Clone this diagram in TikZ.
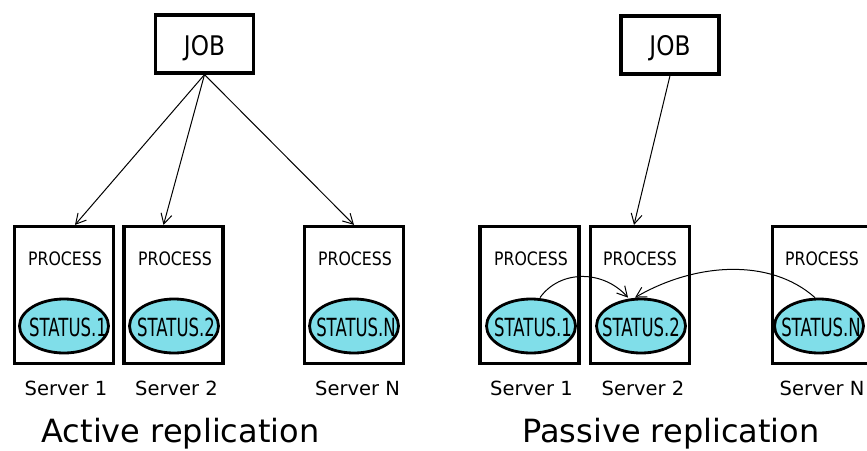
\documentclass[tikz,border=0pt]{standalone}
\usepackage{fontspec}
\usepackage{graphicx}
\setmainfont{DejaVu Sans}
\usetikzlibrary{shapes.geometric,arrows.meta}
\definecolor{statfill}{RGB}{128,222,233}
\newcommand{\jobtxt}[1]{\scalebox{0.86}[1]{\fontsize{27}{30}\selectfont #1}}
\newcommand{\proctxt}[1]{\scalebox{0.85}[1]{\fontsize{18.5}{21}\selectfont #1}}
\newcommand{\stattxt}[1]{\scalebox{0.66}[1]{\fontsize{25}{28}\selectfont #1}}
\tikzset{
  box/.style={draw=black,line width=3.2pt,minimum width=99pt,minimum height=137pt,inner sep=0pt},
  jobbox/.style={draw=black,line width=3.2pt,minimum width=98pt,minimum height=58pt,inner sep=0pt},
  stat/.style={ellipse,draw=black,line width=2.8pt,fill=statfill,minimum width=89pt,minimum height=54pt,inner sep=0pt},
  txt/.style={inner sep=0pt,anchor=base},
  slabel/.style={inner sep=0pt,anchor=base,font=\fontsize{19.5}{22}\selectfont},
  title/.style={inner sep=0pt,anchor=base,font=\fontsize{32}{36}\selectfont},
  arr/.style={line width=1pt,-{Straight Barb[length=10pt,width=11pt]}}
}
\begin{document}
\begin{tikzpicture}[x=1pt,y=-1pt]
\useasboundingbox (0,0) rectangle (867,450);
% ---- Active replication ----
\node[jobbox] (job1) at (204.5,44) {};
\node[txt] (jt1) at (204.5,55) {\jobtxt{JOB}};
\node[box] (a1) at (64,295) {};
\node[box] (a2) at (173.5,295) {};
\node[box] (a3) at (354,295) {};
\node[txt] (ap1) at (65,265) {\proctxt{PROCESS}};
\node[txt] (ap2) at (175,265) {\proctxt{PROCESS}};
\node[txt] (ap3) at (355,265) {\proctxt{PROCESS}};
\node[stat] (ae1) at (64,326) {};
\node[stat] (ae2) at (174,326) {};
\node[stat] (ae3) at (354,326) {};
\node[txt] (at1) at (68,336) {\stattxt{STATUS.1}};
\node[txt] (at2) at (176,336) {\stattxt{STATUS.2}};
\node[txt] (at3) at (356,336) {\stattxt{STATUS.N}};
\node[slabel] (as1) at (66,395) {Server 1};
\node[slabel] (as2) at (176.5,395) {Server 2};
\node[slabel] (as3) at (357.5,395) {Server N};
\node[title] (t1) at (180.5,442) {Active replication};
\draw[arr] (job1.south) -- ([xshift=11pt]a1.north);
\draw[arr] (job1.south) -- ([xshift=-10pt]a2.north);
\draw[arr] (job1.south) -- (a3.north);
% ---- Passive replication ----
\node[jobbox] (job2) at (670,45) {};
\node[txt] (jt2) at (670,55) {\jobtxt{JOB}};
\node[box] (b1) at (529.5,295) {};
\node[box] (b2) at (640,295) {};
\node[box] (b3) at (822,295) {};
\node[txt] (bp1) at (531,265) {\proctxt{PROCESS}};
\node[txt] (bp2) at (640,265) {\proctxt{PROCESS}};
\node[txt] (bp3) at (822,265) {\proctxt{PROCESS}};
\node[stat] (be1) at (531,326) {};
\node[stat] (be2) at (641,326) {};
\node[stat] (be3) at (819,326) {};
\node[txt] (bt1) at (533,336) {\stattxt{STATUS.1}};
\node[txt] (bt2) at (641,336) {\stattxt{STATUS.2}};
\node[txt] (bt3) at (821,336) {\stattxt{STATUS.N}};
\node[slabel] (bs1) at (531.5,395) {Server 1};
\node[slabel] (bs2) at (643,395) {Server 2};
\node[slabel] (bs3) at (822,395) {Server N};
\node[title] (t2) at (671,442) {Passive replication};
\draw[arr] (job2.south) -- ([xshift=-6pt]b2.north);
\draw[arr] ([xshift=9pt]be1.north) .. controls +(20,-28) and +(-25,-28) .. ([xshift=-13pt]be2.north);
\draw[arr] ([xshift=-4pt]be3.north) .. controls +(-45,-40) and +(60,-35) .. ([xshift=-6pt]be2.north);
\end{tikzpicture}
\end{document}
